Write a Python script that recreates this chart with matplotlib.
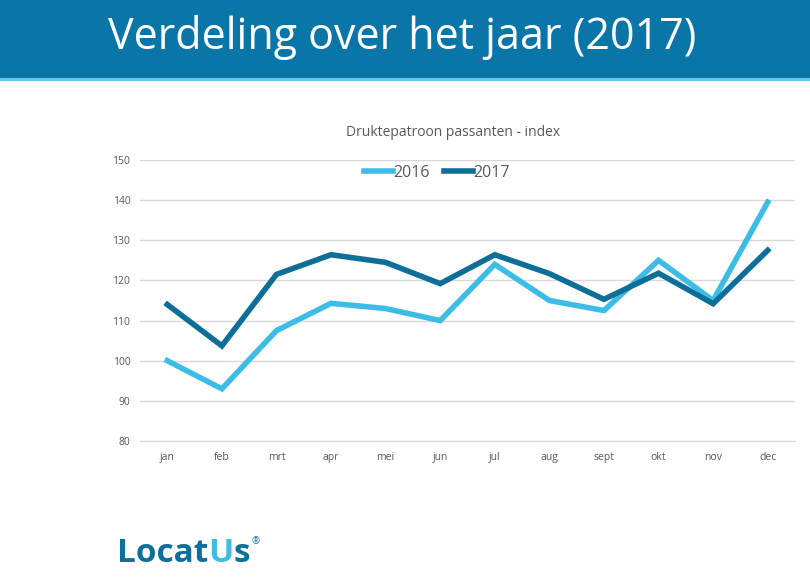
import matplotlib
matplotlib.use('Agg')
import matplotlib.pyplot as plt
from matplotlib.patches import Rectangle

# data
months = ['jan', 'feb', 'mrt', 'apr', 'mei', 'jun', 'jul', 'aug', 'sept', 'okt', 'nov', 'dec']
idx_2016 = [100, 93, 107.5, 114.3, 113, 110, 124, 115, 112.5, 125, 115, 139.5]
idx_2017 = [114, 103.7, 121.5, 126.4, 124.5, 119.2, 126.4, 121.7, 115.3, 121.8, 114.2, 127.5]
yticks = [80, 90, 100, 110, 120, 130, 140, 150]

c_dark = '#0d6f98'
c_light = '#3dbde6'
c_head = '#0a76a8'
grey = '#595959'

W, H = 810, 582
fig = plt.figure(figsize=(W / 100, H / 100), dpi=100)
fig.patch.set_facecolor('white')

# header band
fig.patches.append(Rectangle((0, 1 - 78 / H), 1, 78 / H, transform=fig.transFigure,
                             facecolor=c_head, edgecolor='none', zorder=0))
fig.patches.append(Rectangle((0, 1 - 81 / H), 1, 3 / H, transform=fig.transFigure,
                             facecolor='#6cc4ea', edgecolor='none', zorder=0))
fig.text(402 / W, 1 - 38 / H, 'Verdeling over het jaar (2017)', color='white',
         fontsize=31, family='Open Sans', ha='center', va='center')

# chart area
ax = fig.add_axes([140 / W, 1 - 441 / H, 655 / W, 281 / H])
x = range(len(months))
ax.plot(x, idx_2016, color=c_light, lw=4, label='2016', solid_joinstyle='miter', zorder=3)
ax.plot(x, idx_2017, color=c_dark, lw=4, label='2017', solid_joinstyle='miter', zorder=4)
ax.set_xlim(-0.5, len(months) - 0.5)
ax.set_ylim(80, 150)
ax.set_yticks(yticks)
ax.set_xticks(list(x))
ax.set_xticklabels(months)
ax.yaxis.grid(True, color='#d9d9d9', lw=1)
ax.set_axisbelow(True)
for s in ['top', 'right', 'left']:
    ax.spines[s].set_visible(False)
ax.spines['bottom'].set_color('#d9d9d9')
ax.tick_params(length=0, labelsize=7.5, colors=grey, pad=8)
ax.tick_params(axis='y', pad=7)
for t in ax.get_xticklabels() + ax.get_yticklabels():
    t.set_family('Open Sans')

leg = ax.legend(loc='center', bbox_to_anchor=((437 - 140) / 655, (441 - 173) / 281), ncol=2,
                frameon=False, handlelength=1.8, handletextpad=0.05,
                columnspacing=0.9, prop={'family': 'Open Sans', 'size': 11.5})
for t in leg.get_texts():
    t.set_color(grey)

fig.text(453 / W, 1 - 133 / H, 'Druktepatroon passanten - index', color=grey,
         fontsize=10, family='Open Sans', ha='center', va='center')

# logo
logo_y = 1 - 553 / H
t1 = fig.text(117 / W, logo_y, 'Locat', color='#0c6f9c', fontsize=24, family='Open Sans',
              weight='bold', ha='left', va='center')
fig.canvas.draw()
bb = t1.get_window_extent()
t2 = fig.text(bb.x1 / W, logo_y, 'U', color='#3fbbe4', fontsize=24, family='Open Sans',
              weight='bold', ha='left', va='center')
fig.canvas.draw()
bb = t2.get_window_extent()
t3 = fig.text(bb.x1 / W, logo_y, 's', color='#0c6f9c', fontsize=24, family='Open Sans',
              weight='bold', ha='left', va='center')
fig.canvas.draw()
bb = t3.get_window_extent()
fig.text(bb.x1 / W + 0.002, logo_y + 0.02, '®', color='#0c6f9c', fontsize=7,
         family='Open Sans', ha='left', va='center')

fig.savefig('out.png', dpi=100)
